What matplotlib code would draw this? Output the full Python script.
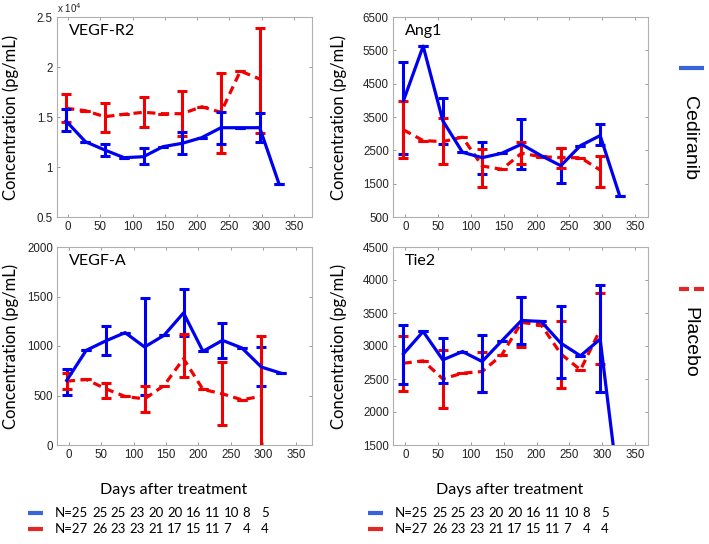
import numpy as np
import matplotlib.pyplot as plt
from matplotlib.lines import Line2D
from matplotlib.ticker import FuncFormatter

plt.rcParams["font.family"] = ["Liberation Sans", "DejaVu Sans"]

W, H = 709, 544

# study days of each sample
days = [-3, 27, 57, 87, 117, 147, 177, 207, 237, 267, 297, 327]

# VEGF-R2 (pg/mL)
r2_ced = [14600, 12530, 11700, 10930, 11030, 12030, 12370, 12930, 13930, 13930, 13930, 8300]
r2_ced_lo = [13600, 12530, 11130, 10930, 10270, 12030, 11270, 12930, 12300, 13930, 12530, 8300]
r2_ced_hi = [15800, 12530, 12270, 10930, 11930, 12030, 13530, 12930, 15530, 13930, 15430, 8300]
r2_pla = [15870, 15630, 15030, 15270, 15470, 15330, 15330, 16030, 15470, 19600, 18800]
r2_pla_lo = [14500, 15630, 13530, 15270, 14030, 15330, 13130, 16030, 11370, 19600, 13430]
r2_pla_hi = [17270, 15630, 16370, 15270, 16970, 15330, 17600, 16030, 19430, 19600, 23930]

# Ang1
a1_ced = [3990, 5626, 3386, 2442, 2280, 2412, 2683, 2340, 2039, 2641, 2943, 1125]
a1_ced_lo = [2382, 5626, 2683, 2442, 1779, 2412, 1930, 2340, 1526, 2641, 2662, 1125]
a1_ced_hi = [5155, 5626, 4070, 2442, 2762, 2412, 3437, 2340, 2581, 2641, 3286, 1125]
a1_pla = [3115, 2792, 2762, 2894, 2030, 1930, 2412, 2310, 2280, 2280, 1909]
a1_pla_lo = [2280, 2792, 2080, 2894, 1405, 1930, 2080, 2310, 1960, 2280, 1387]
a1_pla_hi = [3989, 2792, 3467, 2894, 2532, 1930, 2762, 2310, 2581, 2280, 2340]

# VEGF-A
va_ced = [652, 956, 1051, 1135, 990, 1108, 1334, 946, 1057, 980, 787, 726]
va_ced_lo = [510, 956, 912, 1135, 503, 1108, 1100, 946, 878, 980, 591, 726]
va_ced_hi = [770, 956, 1199, 1135, 1485, 1108, 1574, 946, 1236, 980, 990, 726]
va_pla = [645, 662, 568, 490, 466, 601, 872, 561, 517, 456, 493]
va_pla_lo = [562, 662, 473, 490, 331, 601, 686, 561, 203, 456, -120]
va_pla_hi = [726, 662, 628, 490, 591, 601, 1125, 561, 838, 456, 1101]

# Tie2
t2_ced = [2881, 3220, 2790, 2916, 2765, 3078, 3387, 3372, 3043, 2851, 3104, 680]
t2_ced_lo = [2421, 3220, 2446, 2916, 2309, 3078, 3033, 3372, 2512, 2851, 2309, 680]
t2_ced_hi = [3311, 3220, 3119, 2916, 3169, 3078, 3736, 3372, 3610, 2851, 3928, 680]
t2_pla = [2739, 2775, 2502, 2588, 2613, 2866, 3357, 3321, 2881, 2638, 3245]
t2_pla_lo = [2320, 2775, 2066, 2588, 2309, 2866, 2990, 3321, 2360, 2638, 2729]
t2_pla_hi = [3144, 2775, 2942, 2588, 2906, 2866, 3736, 3321, 3372, 2638, 3802]

n_ced = ["N=25", "25", "25", "23", "20", "20", "16", "11", "10", "8", "5"]
n_pla = ["N=27", "26", "23", "23", "21", "17", "15", "11", "7", "4", "4"]

BLUE = "#0000f0"
RED = "#f00000"
calib = ["Lato", "DejaVu Sans"]


def fx(px):
    return px / W


def fy(py):
    return 1 - py / H


def panel(rect, name, xlim, ylim, yticks, ced, ced_lo, ced_hi, pla, pla_lo, pla_hi,
          red_top=False):
    x0, y0, x1, y1 = rect
    ax = fig.add_axes([fx(x0), fy(y1), (x1 - x0) / W, (y1 - y0) / H])
    n = len(pla)
    pla_m = np.array(pla, float)
    ced_m = np.array(ced, float)
    zr, zb = (4, 2) if red_top else (2, 4)
    ax.errorbar(days[:n], pla_m, yerr=[pla_m - pla_lo, np.array(pla_hi) - pla_m],
                fmt="none", ecolor=RED, elinewidth=2.2, capsize=3.3, capthick=2.2, zorder=zr)
    ax.plot(days[:n], pla_m, color=RED, lw=2.3, ls=(0, (2.6, 1.7)), zorder=3)
    ax.errorbar(days, ced_m, yerr=[ced_m - ced_lo, np.array(ced_hi) - ced_m],
                fmt="none", ecolor=BLUE, elinewidth=2.2, capsize=3.3, capthick=2.2, zorder=zb)
    ax.plot(days, ced_m, color=BLUE, lw=2.3, zorder=5)
    ax.set_xlim(*xlim)
    ax.set_ylim(*ylim)
    ax.set_xticks(np.arange(0, 351, 50))
    ax.set_yticks(yticks)
    for s in ax.spines.values():
        s.set_color("#b0b0b0")
        s.set_linewidth(0.8)
    ax.tick_params(direction="in", length=2, width=0.6, color="#888888",
                   top=True, right=True, labelsize=8.3, labelcolor="#222222", pad=3)
    ax.text(0.045, 0.93, name, transform=ax.transAxes, fontsize=11.5,
            family=calib, va="center", ha="left")
    return ax


fig = plt.figure(figsize=(W / 100, H / 100), dpi=100)

ax1 = panel((57, 17, 312, 217), "VEGF-R2", (-17, 378), (5000, 25000),
            np.arange(5000, 25001, 5000), r2_ced, r2_ced_lo, r2_ced_hi,
            r2_pla, r2_pla_lo, r2_pla_hi)
ax1.yaxis.set_major_formatter(FuncFormatter(lambda v, p: f"{v / 1e4:g}"))
ax1.text(0.0, 1.012, r"x 10$^4$", transform=ax1.transAxes, fontsize=7,
         ha="left", va="bottom", color="#222222")

panel((393, 17, 648, 217), "Ang1", (-19, 370), (500, 6500),
      np.arange(500, 6501, 1000), a1_ced, a1_ced_lo, a1_ced_hi,
      a1_pla, a1_pla_lo, a1_pla_hi, red_top=True)
panel((57, 247, 312, 445), "VEGF-A", (-18, 375), (0, 2000),
      np.arange(0, 2001, 500), va_ced, va_ced_lo, va_ced_hi,
      va_pla, va_pla_lo, va_pla_hi, red_top=True)
panel((393, 247, 648, 445), "Tie2", (-19, 370), (1500, 4500),
      np.arange(1500, 4501, 500), t2_ced, t2_ced_lo, t2_ced_hi,
      t2_pla, t2_pla_lo, t2_pla_hi)

# y labels
for px, py in [(11, 117), (339, 117), (11, 346), (339, 346)]:
    fig.text(fx(px), fy(py), "Concentration (pg/mL)", rotation=90, ha="center",
             va="center", fontsize=12, family=calib)

# x labels
for px in [174, 510]:
    fig.text(fx(px), fy(490), "Days after treatment", ha="center", va="center",
             fontsize=11.5, family=calib)

# sample size rows
for x0 in [28, 368]:
    for row, (labels, col) in enumerate([(n_ced, "#3a64dc"), (n_pla, "#e02828")]):
        yy = 513 + row * 16
        fig.add_artist(Line2D([fx(x0), fx(x0 + 15)], [fy(yy), fy(yy)], color=col,
                              lw=3, solid_capstyle="butt", transform=fig.transFigure))
        for k, lab in enumerate(labels):
            xx = x0 + 27 + (0 if k == 0 else 37 + 18.8 * (k - 1))
            fig.text(fx(xx), fy(yy), lab, ha="left", va="center", fontsize=9.5,
                     family=calib)

# legend on the right
fig.add_artist(Line2D([fx(679), fx(704)], [fy(68), fy(68)], color="#3a64dc", lw=3,
                      solid_capstyle="butt", transform=fig.transFigure))
fig.add_artist(Line2D([fx(679), fx(689)], [fy(289), fy(289)], color="#e02828", lw=3,
                      solid_capstyle="butt", transform=fig.transFigure))
fig.add_artist(Line2D([fx(694), fx(704)], [fy(289), fy(289)], color="#e02828", lw=3,
                      solid_capstyle="butt", transform=fig.transFigure))
fig.text(fx(690), fy(138), "Cediranib", rotation=270, ha="center", va="center",
         fontsize=14)
fig.text(fx(690), fy(342), "Placebo", rotation=270, ha="center", va="center",
         fontsize=14)

fig.savefig("out.png", dpi=100)
